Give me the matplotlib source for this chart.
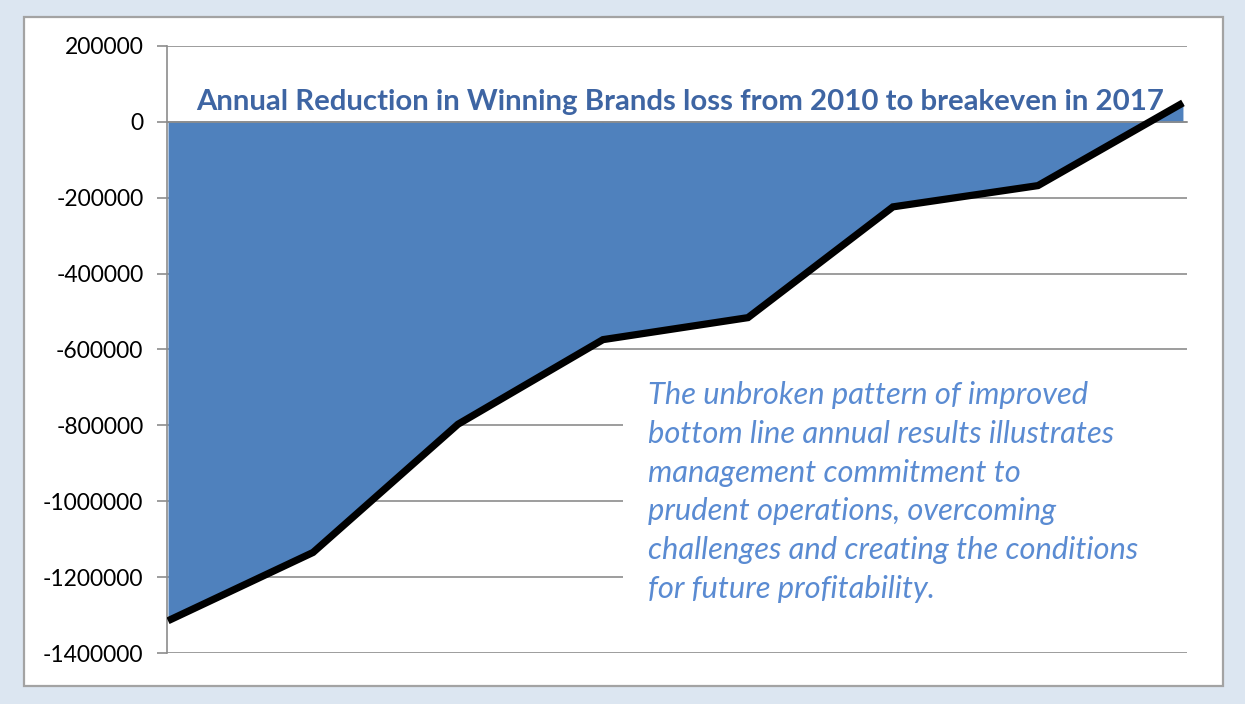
import matplotlib
matplotlib.use("Agg")
import matplotlib.pyplot as plt
from matplotlib.patches import Rectangle
from matplotlib.ticker import FuncFormatter

plt.rcParams['axes.unicode_minus'] = False
plt.rcParams['font.family'] = ['Lato', 'DejaVu Sans']

years = [2010, 2011, 2012, 2013, 2014, 2015, 2016, 2017]
net_result = [-1315000, -1135000, -797000, -574000, -516000, -224000, -168000, 50000]
y_ticks = [200000, 0, -200000, -400000, -600000, -800000, -1000000, -1200000, -1400000]

title = "Annual Reduction in Winning Brands loss from 2010 to breakeven in 2017"
note_lines = [
    "The unbroken pattern of improved",
    "bottom line annual results illustrates",
    "management commitment to",
    "prudent operations, overcoming",
    "challenges and creating the conditions",
    "for future profitability.",
]

W, H = 1245, 704
fig = plt.figure(figsize=(W / 100, H / 100), dpi=100)
fig.patch.set_facecolor('#dce6f1')

# white panel
panel = Rectangle((24 / W, 1 - 686 / H), (1223 - 24) / W, (686 - 17) / H,
                  transform=fig.transFigure, facecolor='white',
                  edgecolor='#a3a3a3', linewidth=1.6, zorder=-10)
fig.patches.append(panel)

ax_l, ax_r, ax_t, ax_b = 167, 1187, 46, 653
ax = fig.add_axes([ax_l / W, 1 - ax_b / H, (ax_r - ax_l) / W, (ax_b - ax_t) / H])
ax.set_facecolor('none')
ax.set_zorder(1)

grid_c = '#8c8c8c'
ax.fill_between(years, net_result, 0, color='#4f81bd', linewidth=0, zorder=1)
ax.plot(years, net_result, color='black', linewidth=5.2, solid_capstyle='butt',
        solid_joinstyle='miter', zorder=3)

ax.set_ylim(-1400000, 200000)
ax.set_xlim(2010 - 0.007, 2017 + 0.028)
ax.set_yticks(y_ticks)
ax.yaxis.set_major_formatter(FuncFormatter(lambda v, p: str(int(v))))
ax.set_xticks(years[1:-1])
ax.set_xticklabels([])

ax.set_axisbelow(True)
ax.grid(axis='y', color=grid_c, linewidth=1.2)
ax.grid(axis='x', visible=False)

for s in ['top', 'right']:
    ax.spines[s].set_visible(False)
ax.spines['left'].set_color(grid_c)
ax.spines['left'].set_linewidth(1.2)
ax.spines['bottom'].set_position(('data', 0))
ax.spines['bottom'].set_color(grid_c)
ax.spines['bottom'].set_linewidth(1.2)
ax.spines['bottom'].set_zorder(2.5)

ax.tick_params(axis='y', direction='out', length=7, width=1.2, color=grid_c,
               pad=10, labelsize=16.5, labelcolor='black')
ax.tick_params(axis='x', direction='out', length=4, width=1.2, color=grid_c)

# white box behind the note
ax.add_patch(Rectangle(((623 - ax_l) / (ax_r - ax_l), (ax_b - 615) / (ax_b - ax_t)),
                       (1190 - 623) / (ax_r - ax_l), (615 - 362) / (ax_b - ax_t),
                       transform=ax.transAxes, facecolor='white', edgecolor='none',
                       zorder=1.5, clip_on=False))

fig.canvas.draw()
renderer = fig.canvas.get_renderer()

def fit(txt, target_w):
    bb = txt.get_window_extent(renderer)
    txt.set_fontsize(txt.get_fontsize() * target_w / bb.width)

t = fig.text(196 / W, 1 - 110 / H, title, fontsize=20, fontweight='bold',
             color='#3e65a3', va='baseline', ha='left', zorder=5)
fit(t, 1165 - 196)

note_color = '#5a8bd2'
base = 404
step = 38.8
probe = fig.text(0, 0, note_lines[4], fontsize=20, style='italic')
fit(probe, 1138 - 648)
fs = probe.get_fontsize()
probe.remove()
for i, line in enumerate(note_lines):
    fig.text(648 / W, 1 - (base + i * step) / H, line, fontsize=fs, style='italic',
             color=note_color, va='baseline', ha='left', zorder=5)

fig.savefig('out.png', dpi=100, facecolor=fig.get_facecolor())
